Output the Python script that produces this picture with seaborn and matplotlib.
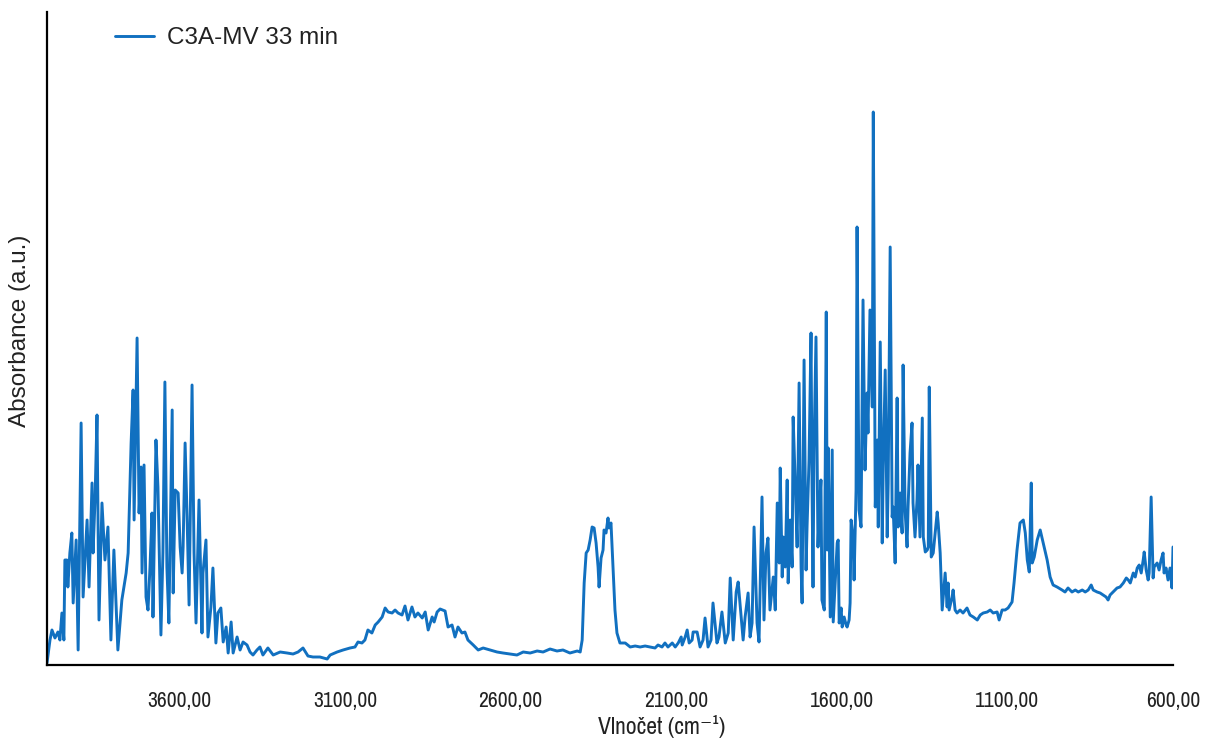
import numpy as np
import pandas as pd
import matplotlib
matplotlib.use("Agg")
import matplotlib.pyplot as plt
from matplotlib import font_manager
import seaborn as sns

# Wavenumber (cm-1)
wavenumber = [
    4000, 3991, 3985, 3976, 3967, 3961, 3955, 3949, 3946, 3940, 3937, 3931, 3925, 3921, 3912, 3906,
    3897, 3891, 3879, 3873, 3864, 3861, 3855, 3849, 3843, 3834, 3825, 3816, 3807, 3798, 3786, 3774,
    3761, 3755, 3746, 3740, 3737, 3728, 3722, 3716, 3713, 3707, 3701, 3695, 3689, 3683, 3680, 3671,
    3665, 3656, 3650, 3644, 3638, 3632, 3622, 3619, 3613, 3604, 3598, 3592, 3589, 3583, 3577, 3571,
    3562, 3556, 3550, 3541, 3532, 3529, 3520, 3514, 3505, 3499, 3490, 3484, 3475, 3468, 3459, 3453,
    3444, 3438, 3426, 3417, 3408, 3396, 3387, 3378, 3366, 3357, 3348, 3333, 3317, 3296, 3275, 3257,
    3242, 3227, 3212, 3197, 3176, 3154, 3145, 3124, 3106, 3085, 3070, 3061, 3049, 3040, 3031, 3019,
    3009, 3000, 2988, 2979, 2970, 2958, 2949, 2940, 2928, 2919, 2910, 2898, 2889, 2880, 2867, 2858,
    2849, 2837, 2831, 2822, 2813, 2798, 2789, 2777, 2768, 2759, 2747, 2738, 2729, 2713, 2698, 2683,
    2662, 2641, 2623, 2602, 2581, 2562, 2541, 2520, 2502, 2481, 2460, 2442, 2421, 2399, 2390, 2384,
    2378, 2372, 2366, 2360, 2354, 2348, 2342, 2336, 2333, 2327, 2321, 2318, 2312, 2306, 2303, 2297,
    2291, 2285, 2279, 2270, 2254, 2239, 2224, 2209, 2194, 2179, 2164, 2155, 2143, 2134, 2125, 2112,
    2103, 2094, 2085, 2082, 2073, 2067, 2061, 2052, 2049, 2037, 2028, 2019, 2013, 2004, 1995, 1989,
    1977, 1971, 1962, 1952, 1943, 1937, 1928, 1919, 1913, 1904, 1898, 1892, 1883, 1877, 1871, 1865,
    1856, 1850, 1841, 1835, 1829, 1823, 1817, 1807, 1801, 1795, 1789, 1786, 1780, 1777, 1771, 1765,
    1762, 1756, 1750, 1747, 1741, 1735, 1729, 1723, 1720, 1714, 1708, 1705, 1699, 1693, 1690, 1687,
    1684, 1678, 1672, 1669, 1663, 1660, 1653, 1647, 1644, 1641, 1635, 1629, 1626, 1620, 1614, 1611,
    1608, 1602, 1599, 1593, 1587, 1584, 1578, 1575, 1572, 1566, 1563, 1557, 1554, 1548, 1542, 1536,
    1530, 1524, 1521, 1515, 1508, 1505, 1499, 1493, 1490, 1484, 1478, 1475, 1469, 1463, 1460, 1454,
    1448, 1445, 1439, 1433, 1430, 1424, 1418, 1415, 1409, 1403, 1400, 1394, 1388, 1385, 1379, 1373,
    1370, 1364, 1357, 1354, 1348, 1342, 1339, 1336, 1330, 1324, 1318, 1312, 1309, 1303, 1297, 1288,
    1282, 1279, 1276, 1267, 1264, 1258, 1252, 1243, 1234, 1222, 1213, 1203, 1191, 1182, 1173, 1161,
    1152, 1143, 1131, 1125, 1116, 1107, 1098, 1086, 1080, 1071, 1062, 1052, 1046, 1040, 1034, 1028,
    1025, 1019, 1010, 1001, 992, 980, 971, 962, 950, 935, 926, 917, 905, 895, 886, 874,
    865, 856, 847, 841, 829, 820, 811, 802, 796, 790, 781, 769, 760, 750, 741, 735,
    729, 720, 714, 708, 702, 696, 690, 687, 681, 675, 672, 666, 660, 657, 648, 642,
    636, 630, 627, 621, 615, 609, 603, 600,
]

# Absorbance (arbitrary units)
absorbance = [
    2, 25, 35, 27, 33, 25, 52, 25, 105, 105, 78, 112, 132, 62, 125, 15,
    242, 68, 145, 78, 182, 112, 165, 250, 45, 162, 105, 138, 25, 115, 15, 65,
    92, 112, 222, 275, 145, 327, 152, 198, 92, 200, 68, 55, 98, 152, 48, 225,
    178, 30, 112, 283, 98, 42, 255, 72, 175, 172, 118, 92, 118, 222, 148, 60,
    280, 112, 42, 165, 32, 92, 125, 28, 58, 97, 22, 52, 57, 23, 38, 12,
    43, 12, 28, 15, 23, 20, 13, 10, 15, 18, 10, 17, 10, 13, 12, 11,
    13, 17, 9, 8, 8, 6, 10, 13, 15, 17, 18, 23, 22, 25, 35, 32,
    40, 43, 48, 57, 53, 52, 55, 52, 50, 59, 45, 58, 48, 52, 47, 53,
    35, 48, 43, 53, 56, 54, 38, 40, 28, 38, 32, 33, 25, 20, 15, 17,
    15, 13, 12, 11, 10, 13, 12, 14, 13, 16, 14, 15, 12, 14, 13, 25,
    82, 112, 115, 125, 138, 137, 122, 98, 78, 107, 115, 135, 132, 147, 137, 142,
    98, 55, 32, 22, 22, 18, 19, 18, 19, 18, 17, 20, 18, 22, 18, 22,
    18, 22, 28, 20, 28, 35, 22, 25, 33, 33, 18, 25, 47, 18, 25, 62,
    22, 28, 53, 22, 32, 87, 25, 73, 83, 48, 25, 48, 72, 28, 42, 138,
    42, 23, 168, 45, 112, 127, 55, 88, 55, 162, 102, 197, 88, 128, 98, 185,
    82, 145, 98, 248, 185, 118, 282, 98, 62, 305, 95, 138, 205, 332, 182, 78,
    215, 328, 118, 148, 185, 65, 55, 353, 115, 217, 48, 215, 43, 82, 122, 125,
    42, 57, 38, 48, 40, 38, 45, 62, 145, 128, 85, 175, 438, 155, 138, 365,
    195, 272, 232, 355, 258, 553, 158, 225, 138, 323, 122, 198, 295, 128, 182, 418,
    148, 158, 102, 267, 138, 172, 132, 300, 155, 118, 158, 212, 242, 162, 128, 165,
    200, 128, 247, 128, 113, 115, 118, 278, 108, 112, 132, 153, 142, 112, 55, 92,
    58, 82, 55, 68, 75, 55, 52, 55, 52, 57, 50, 48, 45, 50, 52, 53,
    55, 52, 53, 45, 55, 55, 57, 63, 82, 115, 142, 145, 132, 105, 93, 182,
    102, 108, 125, 135, 122, 105, 88, 80, 78, 75, 73, 77, 73, 75, 73, 75,
    73, 75, 80, 75, 73, 72, 70, 68, 65, 70, 73, 77, 78, 82, 87, 85,
    82, 92, 88, 97, 100, 92, 105, 113, 95, 85, 92, 168, 87, 98, 102, 95,
    105, 112, 92, 97, 85, 97, 77, 118,
]

x_ticks = [3600, 3100, 2600, 2100, 1600, 1100, 600]
x_tick_labels = ["3600,00", "3100,00", "2600,00", "2100,00", "1600,00", "1100,00", "600,00"]
series_name = "C3A-MV 33 min"

df = pd.DataFrame({"Vlnočet": wavenumber, "Absorbance": absorbance})

sns.set_style("white")
plt.rcParams["font.family"] = ["Liberation Sans", "DejaVu Sans"]

# pick a narrow/condensed font for the axis numbers if one is installed
narrow_family = None
narrow_extra = {}
for f in font_manager.fontManager.ttflist:
    if "Narrow" in f.name or "Condensed" in f.name:
        narrow_family = [f.name, "DejaVu Sans"]
        break
if narrow_family is None:
    for f in font_manager.fontManager.ttflist:
        st = f.stretch
        if (isinstance(st, str) and "condensed" in st) or (isinstance(st, (int, float)) and st < 500):
            narrow_family = [f.name, "DejaVu Sans"]
            narrow_extra = dict(stretch=f.stretch)
            break
tick_size, xlabel_size = 15.5, 17
if narrow_family is None:
    narrow_family = ["Liberation Sans", "DejaVu Sans"]
    tick_size, xlabel_size = 12.5, 14

W, H = 1212, 741
fig = plt.figure(figsize=(W / 100, H / 100), dpi=100)
ax = fig.add_axes([47 / W, 1 - 665 / H, (1173 - 47) / W, (665 - 12) / H])

sns.lineplot(data=df, x="Vlnočet", y="Absorbance", ax=ax, color="#1170C0",
             linewidth=2.1, label=series_name, estimator=None)

ax.set_xlim(4000, 600)
ax.set_ylim(0, 653)
ax.set_xticks(x_ticks)
ax.set_xticklabels(x_tick_labels, family=narrow_family, size=tick_size, **narrow_extra)
ax.set_yticks([])

for s in ["top", "right"]:
    ax.spines[s].set_visible(False)
for s in ["left", "bottom"]:
    ax.spines[s].set_color("black")
    ax.spines[s].set_linewidth(1.6)

ax.tick_params(axis="x", direction="out", length=7, width=1.4, color="black", pad=12,
               labelcolor="#222222")

ax.set_xlabel("Vlnočet (cm⁻¹)", color="#222222", family=narrow_family, size=xlabel_size,
              **narrow_extra)
ax.xaxis.set_label_coords((662 - 47) / 1126, (665 - 727) / 653)
ax.xaxis.label.set_verticalalignment("center")
ax.set_ylabel("Absorbance (a.u.)", fontsize=17.5, color="#222222")
ax.yaxis.set_label_coords((20 - 47) / 1126, (665 - 331) / 653)
ax.yaxis.label.set_verticalalignment("center")

leg = ax.legend(loc="upper left", bbox_to_anchor=((115 - 47) / 1126, (665 - 27) / 653),
                frameon=False, borderaxespad=0, borderpad=0, handlelength=1.6,
                handletextpad=0.55, fontsize=17.5)
for t in leg.get_texts():
    t.set_color("#222222")

fig.savefig("out.png", dpi=100, facecolor="white")
